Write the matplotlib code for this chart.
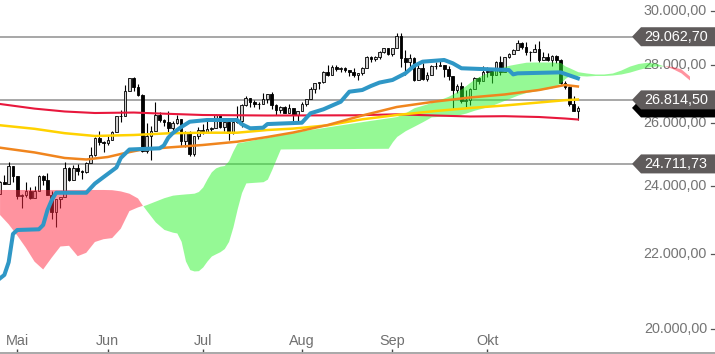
import numpy as np
import matplotlib
matplotlib.use('Agg')
import matplotlib.pyplot as plt
from matplotlib.patches import Polygon
from matplotlib.transforms import IdentityTransform, offset_copy

plt.rcParams['font.family'] = ['Liberation Sans', 'DejaVu Sans']

# daily candles, one per weekday from 27 Apr to 30 Oct (index 0..134)
opens = [
    23780, 24134, 24102, 24634, 24346, 23724, 23750, 23883, 23665, 23876,
    24331, 24222, 23765, 23248, 23625, 23685, 24597, 24207, 24576, 24474,
    24465, 24740, 24995, 25548, 25401, 25383, 25475, 25743, 26270, 26282,
    27111, 27572, 27272, 26990, 25128, 25606, 25763, 26290, 26120, 26080,
    25871, 26025, 26156, 25446, 25746, 25016, 25596, 25813, 25735, 25827,
    25870, 26287, 25890, 26067, 25706, 26075, 26086, 26643, 26870, 26735,
    26672, 26681, 26840, 27006, 26652, 26470, 26585, 26379, 26540, 26314,
    26428, 26664, 26828, 27202, 27387, 27433, 27791, 27687, 27977, 27897,
    27931, 27845, 27778, 27693, 27740, 27930, 28308, 28248, 28332, 28492,
    28654, 28430, 28646, 29100, 28293, 28133, 28300, 27501, 27940, 27535,
    27666, 27993, 27996, 28032, 27902, 27657, 27148, 27288, 26763, 26815,
    27174, 27584, 27453, 27782, 27817, 27683, 28149, 27773, 28303, 28426,
    28587, 28838, 28680, 28514, 28494, 28606, 28195, 28309, 28211, 28364,
    28200, 27400, 27250, 26690, 26450]
highs = [
    24190, 24367, 24764, 24640, 24346, 23790, 24147, 23997, 24030, 24356,
    24380, 24418, 23877, 23637, 23703, 24765, 24628, 24670, 24700, 24527,
    24760, 25259, 25561, 25764, 25450, 25601, 25766, 26284, 26463, 27338,
    27581, 27600, 27354, 27000, 26028, 25929, 26750, 26400, 26168, 26444,
    26097, 26289, 26182, 25765, 25760, 25600, 25905, 26016, 26205, 25900,
    26339, 26300, 26076, 26100, 26094, 26600, 26659, 26938, 26880, 26811,
    26732, 27052, 27029, 27089, 26680, 26589, 26600, 26665, 26540, 26440,
    26742, 26832, 27256, 27396, 27437, 27808, 28033, 28030, 28047, 27960,
    27963, 27862, 27912, 27758, 27962, 28350, 28359, 28353, 28539, 28660,
    28660, 28659, 29200, 29199, 28562, 28420, 28330, 28037, 28123, 27802,
    28048, 28127, 28259, 28040, 27998, 27660, 27359, 27425, 27141, 27224,
    27612, 27606, 28000, 27971, 27858, 28171, 28354, 28328, 28483, 28605,
    28958, 28876, 28854, 28553, 28792, 28887, 28513, 28463, 28391, 28387,
    28250, 27480, 27300, 26950, 26620]
lows = [
    23780, 24084, 24102, 24150, 23645, 23361, 23700, 23631, 23665, 23876,
    24050, 23764, 23041, 22789, 23362, 23685, 24190, 24207, 24372, 24232,
    24430, 24740, 24962, 25306, 25102, 25301, 25475, 25743, 26069, 26282,
    27111, 27129, 26933, 25082, 25050, 24843, 25763, 26060, 25929, 25753,
    25774, 26000, 25279, 25241, 24973, 24950, 25518, 25671, 25735, 25760,
    25870, 25875, 25780, 25489, 25666, 26028, 25919, 26600, 26578, 26583,
    26506, 26681, 26720, 26496, 26295, 26372, 26360, 26370, 26076, 26036,
    26428, 26589, 26828, 27062, 27192, 27400, 27660, 27687, 27833, 27770,
    27793, 27642, 27607, 27487, 27664, 27930, 28146, 28165, 28252, 28457,
    28398, 28360, 28646, 27977, 27665, 27900, 27458, 27501, 27496, 27451,
    27666, 27888, 27990, 27624, 27500, 26538, 27052, 26713, 26537, 26640,
    27174, 27379, 27453, 27609, 27383, 27683, 27663, 27773, 28282, 28415,
    28587, 28608, 28410, 28163, 28494, 28141, 28195, 28183, 28000, 28111,
    27350, 27200, 26600, 26420, 26140]
closes = [
    24134, 24102, 24634, 24346, 23724, 23750, 23883, 23665, 23876, 24331,
    24222, 23765, 23248, 23625, 23685, 24597, 24207, 24576, 24474, 24465,
    24740, 24995, 25548, 25401, 25383, 25475, 25743, 26270, 26282, 27111,
    27572, 27272, 26990, 25128, 25606, 25763, 26290, 26120, 26080, 25871,
    26025, 26156, 25446, 25746, 25016, 25596, 25813, 25735, 25827, 25870,
    26287, 25890, 26067, 25706, 26075, 26086, 26643, 26870, 26735, 26672,
    26681, 26840, 27006, 26652, 26470, 26585, 26379, 26540, 26314, 26428,
    26664, 26828, 27202, 27387, 27433, 27791, 27687, 27977, 27897, 27931,
    27845, 27778, 27693, 27740, 27930, 28308, 28248, 28332, 28492, 28654,
    28430, 28646, 29100, 28293, 28133, 28300, 27501, 27940, 27535, 27666,
    27993, 27996, 28032, 27902, 27657, 27148, 27288, 26763, 26815, 27174,
    27584, 27453, 27782, 27817, 27683, 28149, 27773, 28303, 28426, 28587,
    28838, 28680, 28514, 28494, 28606, 28195, 28309, 28211, 28364, 28200,
    27400, 27250, 26690, 26450, 26540]

month_idx = [4, 25, 47, 70, 91, 113]
month_labels = ['Mai', 'Jun', 'Jul', 'Aug', 'Sep', 'Okt']

# moving averages
red_idx = [0, 8, 15, 22, 31, 37, 47, 62, 82, 92, 101, 109, 117, 125, 131, 134]
red_val = [26674, 26517, 26420, 26369, 26385, 26352, 26302, 26285, 26292, 26325,
           26285, 26252, 26262, 26235, 26185, 26152]
yellow_idx = [0, 8, 15, 22, 31, 39, 47, 55, 62, 68, 76, 84, 92, 101, 109, 117, 125, 131, 134]
yellow_val = [25960, 25843, 25699, 25608, 25640, 25695, 25715, 25715, 25804, 25850,
              25959, 26158, 26302, 26436, 26538, 26623, 26725, 26803, 26827]
orange_idx = [0, 8, 15, 20, 25, 29, 33, 39, 47, 55, 62, 68, 76, 84, 92, 101, 109, 117, 125, 131, 134]
orange_val = [25228, 25076, 24899, 24852, 24931, 25058, 25170, 25235, 25315, 25422,
              25575, 25722, 25969, 26285, 26572, 26759, 26896, 26999, 27154, 27328, 27276]

# kijun (blue)
kijun_idx = [0, 1, 2, 3, 4, 9, 10, 11, 12, 13, 20, 22, 24, 26, 27, 28, 30, 37, 38, 39,
             40, 42, 44, 48, 55, 56, 58, 61, 62, 70, 72, 75, 79, 81, 84, 86, 88, 91, 94, 96,
             98, 103, 105, 107, 118, 119, 120, 130, 134]
kijun_val = [21358, 21450, 21800, 22600, 22715, 22735, 22860, 23300, 23600, 23820,
             23820, 24100, 24300, 24500, 24600, 24900, 25170, 25209, 25300, 25550,
             25695, 25900, 26078, 26135, 26135, 26000, 25860, 25880, 26000, 26045,
             26359, 26494, 26750, 27095, 27154, 27293, 27413, 27503, 27737, 28000,
             28153, 28213, 28094, 27917, 27855, 27700, 27737, 27772, 27561]

# ichimoku cloud
cloud_idx = [0, 2, 4, 6, 8, 10, 12, 14, 16, 18, 20, 22, 24, 26, 28, 30, 32, 33, 34, 36,
             38, 40, 41, 42, 43, 44, 45, 46, 47, 48, 49, 50, 51, 52, 53, 54, 55, 56, 57, 58,
             60, 61, 62, 63, 64, 65, 66, 70, 74, 78, 82, 86, 90, 91, 92, 94, 96, 98, 100, 102,
             104, 106, 108, 110, 112, 114, 116, 118, 120, 122, 124, 126, 128, 130, 131, 132,
             134, 136, 138, 140, 142, 144, 146, 148, 150, 152, 154, 156, 158, 160]
span_a = [23154, 22881, 22554, 22203, 21816, 21600, 21930, 22242, 22262, 21969,
          22064, 22370, 22450, 22482, 22753, 23269, 23379, 23421, 23466, 23568,
          23670, 23746, 23761, 23773, 23785, 23795, 23807, 23858, 23995, 24244,
          24465, 24587, 24640, 24662, 24817, 25122, 25384, 25406, 25432, 25461,
          25516, 25542, 25568, 25598, 25624, 25650, 25676, 25778, 25864, 25953,
          26039, 26125, 26208, 26228, 26252, 26379, 26548, 26633, 26725, 26827,
          26941, 27099, 27307, 27538, 27699, 27816, 27930, 28023, 28080, 28134,
          28141, 28141, 28141, 28123, 28002, 27938, 27795, 27749, 27714, 27714,
          27749, 27855, 27995, 28088, 28131, 28099, 27998, 27891, 27739, 27486]
span_b = [23904, 23904, 23904, 23904, 23904, 23904, 23904, 23904, 23904, 23904,
          23904, 23904, 23904, 23898, 23861, 23791, 23646, 23451, 23278, 22951,
          22732, 22652, 22629, 22387, 21835, 21597, 21559, 21567, 21669, 21835,
          21974, 22036, 22095, 22183, 22387, 22802, 23341, 23825, 24120, 24130,
          24148, 24158, 24238, 24534, 24861, 25186, 25189, 25193, 25196, 25199,
          25202, 25206, 25209, 25422, 25594, 25784, 25929, 26079, 26239, 26259,
          26275, 26295, 26366, 26463, 26541, 26626, 26742, 26858, 26975, 27068,
          27120, 27175, 27227, 27405, 27552, 27657, 27661, 27643, 27661, 27661,
          27678, 27714, 27781, 27873, 27951, 27998, 27998, 27962, 27880, 27625]

levels = [29062.70, 26814.50, 24711.73]
last_price = 26540.00
y_ticks = [20000, 22000, 24000, 26000, 28000, 30000]


def de_fmt(v):
    s = f"{v:,.2f}"
    return s.replace(',', 'X').replace('.', ',').replace('X', '.')


fig = plt.figure(figsize=(7.15, 3.54), dpi=100)
ax = fig.add_axes([0, 1.5 / 354, 1, 352.5 / 354])
ax.set_yscale('log')
ax.set_ylim(19430, 30456)
ax.set_xlim(-0.01, 165.8)

idx = np.arange(len(closes))
o = np.array(opens)
c = np.array(closes)
up = c >= o

# horizontal levels
for lv in levels:
    ax.axhline(lv, xmin=0, xmax=632 / 715, color='#8f8f8f', lw=1.1, zorder=1)

# candles
ax.vlines(idx, lows, highs, color='black', lw=0.8, zorder=2)
ax.bar(idx[up], c[up] - o[up], bottom=o[up], width=0.62, color='#cfcfcf',
       edgecolor='black', linewidth=0.6, zorder=2.1)
ax.bar(idx[~up], o[~up] - c[~up], bottom=c[~up], width=0.62, color='black',
       edgecolor='black', linewidth=0.6, zorder=2.1)

# cloud drawn over the candles
sa = np.array(span_a)
sb = np.array(span_b)
ax.fill_between(cloud_idx, sa, sb, where=sa >= sb, interpolate=True,
                color='#2df52d', alpha=0.5, lw=0, zorder=3)
ax.fill_between(cloud_idx, sa, sb, where=sa < sb, interpolate=True,
                color='#ff2941', alpha=0.5, lw=0, zorder=3)

# indicator lines
ax.plot(red_idx, red_val, color='#e8173c', lw=1.5, zorder=4)
ax.plot(yellow_idx, yellow_val, color='#ffd200', lw=1.8, zorder=4)
ax.plot(orange_idx, orange_val, color='#f0851e', lw=1.8, zorder=4)
ax.plot(kijun_idx, kijun_val, color='#2f97c6', lw=2.9, zorder=4.5,
        solid_joinstyle='round')

# axes styling
for s in ['top', 'left', 'right']:
    ax.spines[s].set_visible(False)
ax.spines['bottom'].set_color('#a8a8a8')
ax.spines['bottom'].set_linewidth(1.4)
ax.set_yticks([])
ax.set_yticks([], minor=True)
ax.set_xticks(month_idx)
ax.set_xticklabels([])
ax.tick_params(axis='x', direction='in', length=3, width=1, color='#444444')

for i, lab in zip(month_idx, month_labels):
    ax.text(i, 0.033, lab, transform=ax.get_xaxis_transform(), ha='center',
            va='center', fontsize=10.4, color='#707070', zorder=0.5)

ytrans = offset_copy(ax.get_yaxis_transform(), fig=fig, y=1, units='dots')
for v in y_ticks:
    ax.text(707 / 715, v, de_fmt(v), transform=ytrans, ha='right', va='center',
            fontsize=10.4, color='#757575', zorder=0.5)
    ax.plot([711 / 715, 714.5 / 715], [v, v], transform=ytrans, color='#555555',
            lw=0.9, zorder=0.5, clip_on=False)


def price_tag(value, face, z, text=None):
    y = ax.transData.transform((0, value))[1]
    verts = [(632, y), (641, y + 9.5), (715, y + 9.5), (715, y - 9.5), (641, y - 9.5)]
    ax.add_patch(Polygon(verts, closed=True, facecolor=face, edgecolor='none',
                         transform=IdentityTransform(), zorder=z, clip_on=False))
    if text:
        ax.text(676, y, text, transform=IdentityTransform(), ha='center', va='center',
                fontsize=10.4, color='white', zorder=z + 0.1)


# last price tag sits mostly hidden behind the 26.814,50 tag
price_tag(last_price, 'black', 6)
for lv in levels:
    price_tag(lv, '#5f5b5b', 7, de_fmt(lv))

fig.savefig('out.png', dpi=100)
